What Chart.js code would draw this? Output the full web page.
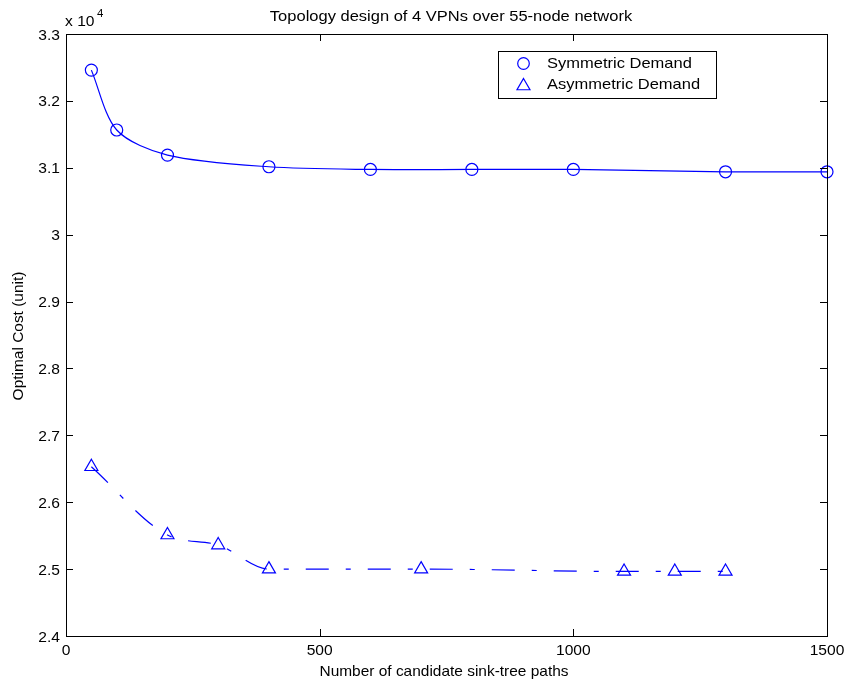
<!DOCTYPE html>
<html>
<head>
<meta charset="utf-8">
<script src="https://cdn.jsdelivr.net/npm/chart.js@4/dist/chart.umd.min.js"></script>
<style>
  html, body { margin: 0; padding: 0; background: #ffffff; }
  canvas { display: block; }
</style>
</head>
<body>
<canvas id="chart" width="849" height="683"></canvas>
<script>
// Symmetric demand: optimal cost per number of candidate paths
const symPaths = [50, 100, 200, 400, 600, 800, 1000, 1300, 1500];
const symmetricCost = [32460, 31565, 31190, 31015, 30975, 30975, 30975, 30940, 30940];

// Asymmetric demand
const asymPaths = [50, 200, 300, 400, 700, 1100, 1200, 1300];
const asymmetricCost = [26530, 25510, 25360, 25000, 25000, 24965, 24965, 24965];

// Axis ticks
const xTickValues = [0, 500, 1000, 1500];
const yTickValues = [24000, 25000, 26000, 27000, 28000, 29000, 30000, 31000, 32000, 33000];

const titleText = 'Topology design of 4 VPNs over 55-node network';
const xLabelText = 'Number of candidate sink-tree paths';
const yLabelText = 'Optimal Cost (unit)';
const seriesNames = ['Symmetric Demand', 'Asymmetric Demand'];

const BLUE = '#0000ff';
const FONT = '"Liberation Sans", Arial, Helvetica, sans-serif';

// Draw text with a slight horizontal stretch (Helvetica-like proportions)
function stretchedText(ctx, text, x, y, size, align, sx, rotate) {
  ctx.save();
  ctx.translate(x, y);
  if (rotate) ctx.rotate(rotate);
  ctx.scale(sx, 1);
  ctx.font = size + 'px ' + FONT;
  ctx.textAlign = align;
  ctx.textBaseline = 'alphabetic';
  ctx.fillStyle = '#000000';
  ctx.fillText(text, 0, 0);
  ctx.restore();
}

const axesFrame = {
  id: 'axesFrame',
  beforeDraw(chart) {
    const ctx = chart.ctx;
    ctx.save();
    ctx.fillStyle = '#ffffff';
    ctx.fillRect(0, 0, chart.width, chart.height);
    ctx.restore();
  },
  afterDraw(chart) {
    const ctx = chart.ctx;
    const a = chart.chartArea;
    const xs = chart.scales.x, ys = chart.scales.y;
    const tick = 7;
    ctx.save();
    ctx.strokeStyle = '#000000';
    ctx.lineWidth = 1;
    // box
    ctx.strokeRect(Math.round(a.left) + 0.5, Math.round(a.top) + 0.5,
                   Math.round(a.right - a.left), Math.round(a.bottom - a.top));
    ctx.beginPath();
    xTickValues.forEach(v => {
      const px = Math.round(xs.getPixelForValue(v)) + 0.5;
      ctx.moveTo(px, a.bottom); ctx.lineTo(px, a.bottom - tick);
      ctx.moveTo(px, a.top); ctx.lineTo(px, a.top + tick);
    });
    yTickValues.forEach(v => {
      const py = Math.round(ys.getPixelForValue(v)) + 0.5;
      ctx.moveTo(a.left, py); ctx.lineTo(a.left + tick, py);
      ctx.moveTo(a.right, py); ctx.lineTo(a.right - tick, py);
    });
    ctx.stroke();
    ctx.restore();

    // tick labels
    xTickValues.forEach(v => {
      stretchedText(ctx, String(v), xs.getPixelForValue(v), a.bottom + 19, 15, 'center', 1.04);
    });
    yTickValues.forEach(v => {
      const label = String(+(v / 10000).toFixed(1));
      stretchedText(ctx, label, a.left - 6, ys.getPixelForValue(v) + 5.5, 15, 'right', 1.04);
    });

    // exponent marker
    stretchedText(ctx, 'x 10', a.left - 1, 26, 15, 'left', 1.04);
    stretchedText(ctx, '4', a.left + 31, 17, 11, 'left', 1.04);

    // title and axis labels
    stretchedText(ctx, titleText, 451, 21, 15, 'center', 1.1);
    stretchedText(ctx, xLabelText, 444, 676, 15, 'center', 1.03);
    stretchedText(ctx, yLabelText, 23, 336, 15, 'center', 1.03, -Math.PI / 2);

    // legend
    const lx = 498, ly = 51, lw = 218, lh = 47;
    ctx.save();
    ctx.fillStyle = '#ffffff';
    ctx.fillRect(lx, ly, lw, lh);
    ctx.strokeStyle = '#000000';
    ctx.lineWidth = 1;
    ctx.strokeRect(lx + 0.5, ly + 0.5, lw, lh);
    ctx.strokeStyle = BLUE;
    ctx.lineWidth = 1.2;
    ctx.beginPath();
    ctx.arc(523.5, 63.5, 5.8, 0, Math.PI * 2);
    ctx.stroke();
    Chart.helpers.drawPoint(ctx, { pointStyle: 'triangle', radius: 7.5, rotation: 0, borderWidth: 1.2 }, 523.5, 86);
    ctx.restore();
    stretchedText(ctx, seriesNames[0], 547, 68, 15, 'left', 1.1);
    stretchedText(ctx, seriesNames[1], 547, 89, 15, 'left', 1.1);
  }
};

new Chart(document.getElementById('chart'), {
  type: 'line',
  data: {
    datasets: [
      {
        label: seriesNames[0],
        data: symPaths.map((x, i) => ({ x: x, y: symmetricCost[i] })),
        borderColor: BLUE,
        borderWidth: 1.2,
        backgroundColor: 'rgba(0,0,0,0)',
        pointStyle: 'circle',
        pointRadius: 6,
        pointBorderWidth: 1.2,
        pointBorderColor: BLUE,
        pointBackgroundColor: 'rgba(0,0,0,0)',
        tension: 0.3,
        clip: false
      },
      {
        label: seriesNames[1],
        data: asymPaths.map((x, i) => ({ x: x, y: asymmetricCost[i] })),
        borderColor: BLUE,
        borderWidth: 1.2,
        borderDash: [23, 17, 5, 17],
        backgroundColor: 'rgba(0,0,0,0)',
        pointStyle: 'triangle',
        pointRadius: 7.5,
        pointBorderWidth: 1.2,
        pointBorderColor: BLUE,
        pointBackgroundColor: 'rgba(0,0,0,0)',
        cubicInterpolationMode: 'monotone',
        clip: false
      }
    ]
  },
  options: {
    responsive: false,
    animation: false,
    devicePixelRatio: 1,
    layout: { padding: { top: 34, right: 22, left: 0, bottom: 0 } },
    plugins: { legend: { display: false }, title: { display: false }, tooltip: { enabled: false } },
    scales: {
      x: {
        type: 'linear', min: 0, max: 1500,
        ticks: { display: false, stepSize: 500 },
        grid: { display: false, drawTicks: false },
        border: { display: false },
        afterFit: s => { s.height = 47; }
      },
      y: {
        type: 'linear', min: 24000, max: 33000,
        ticks: { display: false, stepSize: 1000 },
        grid: { display: false, drawTicks: false },
        border: { display: false },
        afterFit: s => { s.width = 66; }
      }
    }
  },
  plugins: [axesFrame]
});
</script>
</body>
</html>
